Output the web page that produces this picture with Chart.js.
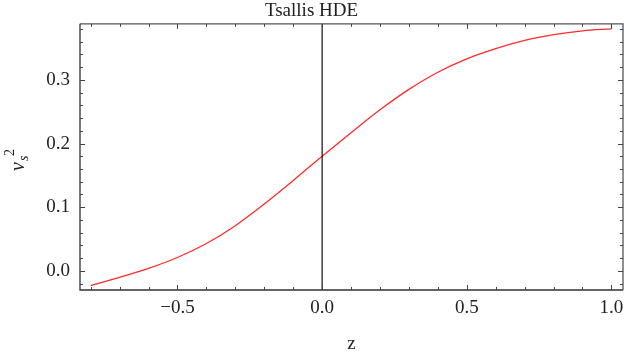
<!DOCTYPE html>
<html>
<head>
<meta charset="utf-8">
<script src="https://cdn.jsdelivr.net/npm/chart.js@4.4.1/dist/chart.umd.min.js"></script>
<style>
  html, body { margin: 0; padding: 0; background: #fff; }
  #wrap { width: 624px; height: 358px; }
</style>
</head>
<body>
<div id="wrap"><canvas id="c" width="624" height="358"></canvas></div>
<script>
// ---- data ----
const zValues = [-0.8, -0.7, -0.6, -0.5, -0.4, -0.3, -0.2, -0.1, 0.0, 0.1, 0.2, 0.3, 0.4, 0.5, 0.6, 0.7, 0.8, 0.9, 1.0];
const vs2Values = [-0.023, -0.010, 0.004, 0.021, 0.043, 0.071, 0.105, 0.142, 0.180, 0.217, 0.253, 0.285, 0.312, 0.333, 0.349, 0.362, 0.371, 0.377, 0.380];
const xTickLabels = [-0.5, 0.0, 0.5, 1.0];
const yTickLabels = [0.0, 0.1, 0.2, 0.3];
const xMinorStep = 0.1;
const yMinorStep = 0.02;
const titleText = 'Tsallis HDE';
const xTitle = 'z';

const SERIF = '"Liberation Serif", "DejaVu Serif", serif';

const points = zValues.map((z, i) => ({ x: z, y: vs2Values[i] }));

const framePlugin = {
  id: 'frame',
  afterDatasetsDraw(chart) {
    const { ctx, chartArea: a, scales } = chart;
    const xs = scales.x, ys = scales.y;
    ctx.save();
    // zero line
    const x0 = xs.getPixelForValue(0);
    ctx.strokeStyle = '#111';
    ctx.lineWidth = 1.2;
    ctx.beginPath();
    ctx.moveTo(x0, a.top); ctx.lineTo(x0, a.bottom);
    ctx.stroke();

    // frame
    ctx.lineWidth = 1.3;
    ctx.strokeStyle = '#555';
    ctx.beginPath();
    ctx.moveTo(a.left, a.top); ctx.lineTo(a.right, a.top); ctx.lineTo(a.right, a.bottom);
    ctx.stroke();
    ctx.strokeStyle = '#333';
    ctx.beginPath();
    ctx.moveTo(a.left, a.top); ctx.lineTo(a.left, a.bottom); ctx.lineTo(a.right, a.bottom);
    ctx.stroke();

    // inward ticks
    ctx.lineWidth = 1;
    ctx.strokeStyle = '#444';
    const isMajor = (v, list) => list.some(t => Math.abs(t - v) < 1e-6);
    for (let k = -8; k <= 10; k++) {
      const v = k * xMinorStep;
      const px = Math.round(xs.getPixelForValue(v)) + 0.5;
      const len = isMajor(v, xTickLabels) ? 5 : 3;
      ctx.beginPath();
      ctx.moveTo(px, a.bottom); ctx.lineTo(px, a.bottom - len);
      ctx.moveTo(px, a.top); ctx.lineTo(px, a.top + len);
      ctx.stroke();
    }
    for (let k = -1; k <= 19; k++) {
      const v = k * yMinorStep;
      const py = Math.round(ys.getPixelForValue(v)) + 0.5;
      const len = isMajor(v, yTickLabels) ? 5 : 3;
      ctx.beginPath();
      ctx.moveTo(a.left, py); ctx.lineTo(a.left + len, py);
      ctx.moveTo(a.right, py); ctx.lineTo(a.right - len, py);
      ctx.stroke();
    }

    // y-axis label v_s^2 (rotated)
    const cy = (a.top + a.bottom) / 2;
    ctx.translate(24, cy + 2);
    ctx.rotate(-Math.PI / 2);
    ctx.fillStyle = '#222';
    ctx.textBaseline = 'alphabetic';
    ctx.textAlign = 'left';
    ctx.font = 'italic 20px ' + SERIF;
    ctx.fillText('v', -12, 0);
    ctx.font = 'italic 14px ' + SERIF;
    ctx.fillText('s', -2, 4);
    ctx.font = '14px ' + SERIF;
    ctx.fillText('2', 3, -10);
    ctx.restore();
  }
};

new Chart(document.getElementById('c'), {
  type: 'scatter',
  data: {
    datasets: [{
      data: points,
      showLine: true,
      borderColor: '#ff2a2a',
      borderWidth: 1.3,
      pointRadius: 0,
      cubicInterpolationMode: 'monotone',
      fill: false
    }]
  },
  options: {
    responsive: false,
    animation: false,
    devicePixelRatio: 1,
    layout: { padding: { left: 0, right: 1, top: 0, bottom: 0 } },
    plugins: {
      legend: { display: false },
      tooltip: { enabled: false },
      title: {
        display: true,
        text: titleText,
        color: '#222',
        font: { family: SERIF, size: 19, weight: 'normal', lineHeight: 1.2 },
        padding: { top: 0, bottom: 1 }
      }
    },
    scales: {
      x: {
        type: 'linear',
        min: -0.837,
        max: 1.04,
        grid: { display: false, drawTicks: false },
        border: { display: false },
        afterBuildTicks: s => { s.ticks = xTickLabels.map(v => ({ value: v })); },
        afterFit: s => { s.height = 68; s.paddingLeft = 0; s.paddingRight = 0; },
        ticks: {
          color: '#222',
          padding: 7,
          maxRotation: 0,
          font: { family: SERIF, size: 19 },
          callback: v => v.toFixed(1).replace('-', '\u2212')
        },
        title: {
          display: true,
          text: xTitle,
          color: '#222',
          font: { family: SERIF, size: 19 },
          padding: { top: 0, bottom: 3 }
        }
      },
      y: {
        type: 'linear',
        min: -0.030,
        max: 0.388,
        grid: { display: false, drawTicks: false },
        border: { display: false },
        afterBuildTicks: s => { s.ticks = yTickLabels.map(v => ({ value: v })); },
        afterFit: s => { s.width = 80; s.paddingTop = 0; s.paddingBottom = 0; },
        ticks: {
          color: '#222',
          padding: 10,
          font: { family: SERIF, size: 19 },
          callback: v => v.toFixed(1).replace('-', '\u2212')
        }
      }
    }
  },
  plugins: [framePlugin]
});
</script>
</body>
</html>
